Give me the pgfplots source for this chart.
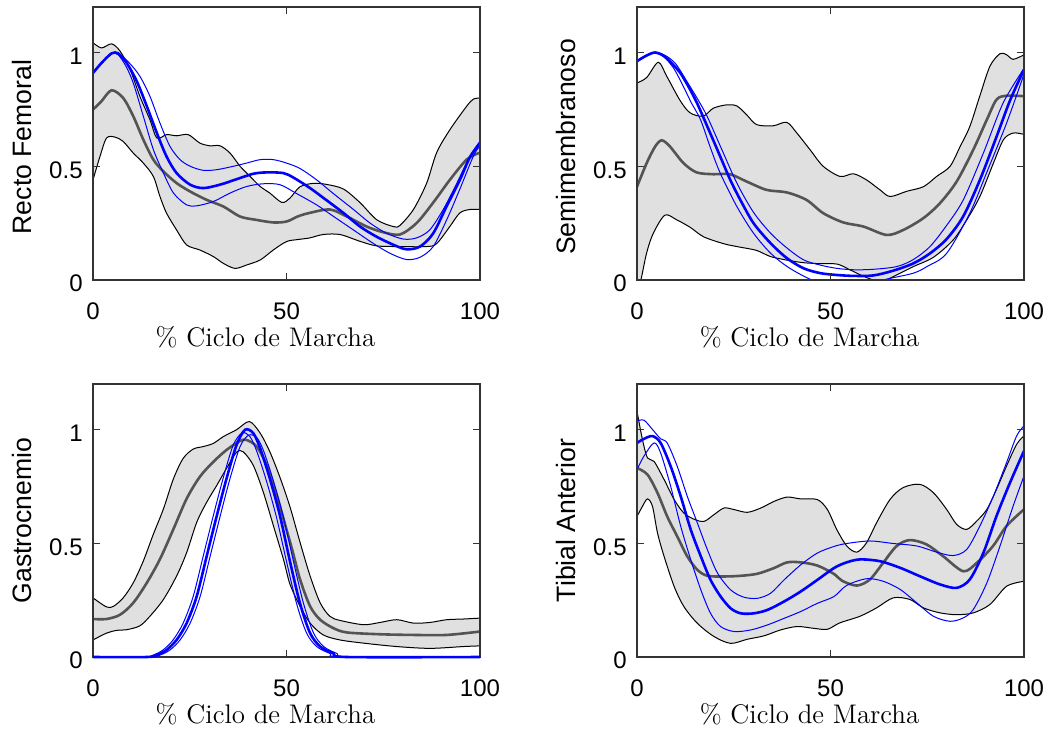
\documentclass[border=0pt]{standalone}
\usepackage{fontspec}
\setmainfont{Latin Modern Roman}
\setsansfont{Liberation Sans}
\usepackage{pgfplots}
\pgfplotsset{compat=1.18}
\usepgfplotslibrary{fillbetween}
\definecolor{bandfill}{gray}{0.88}
\definecolor{meangray}{gray}{0.33}
\definecolor{mblue}{rgb}{0,0,1}
\pgfplotsset{
  emg/.style={
    scale only axis, width=193.5pt, height=136.5pt,
    anchor=south west,
    xmin=0, xmax=100, ymin=0, ymax=1.2,
    xtick={0,50,100}, ytick={0,0.5,1},
    tick align=inside, xtick pos=both, ytick pos=both,
    major tick length=3.5pt,
    set layers, axis on top,
    axis line style={black!80, line width=0.6pt},
    every tick/.style={black!80, line width=0.5pt},
    /pgf/number format/assume math mode=true,
    tick label style={font=\sffamily\fontsize{12}{12}\selectfont},
    xticklabel style={anchor=north, inner sep=0pt, yshift=-11pt},
    yticklabel style={anchor=east, inner sep=0pt, xshift=-5pt, yshift=-1.75pt},
    xlabel={\% Ciclo de Marcha},
    xlabel style={at={(axis description cs:0.4457,-0.245)}, anchor=base, inner sep=0pt, font=\fontsize{13.45}{13.45}\selectfont},
    ylabel style={at={(axis description cs:-0.1835,0.5)}, anchor=center, inner sep=0pt, font=\sffamily\fontsize{13.3}{13.3}\selectfont},
  },
  bandline/.style={black, line width=0.5pt, smooth},
  meanline/.style={meangray, line width=1.3pt, smooth},
  thinblue/.style={mblue, line width=0.5pt, smooth},
  thickblue/.style={mblue, line width=1.3pt, smooth},
}
\begin{document}
\begin{tikzpicture}

% ---------------- Recto Femoral ----------------
\begin{axis}[emg, at={(46.5pt,225pt)}, ylabel={Recto Femoral}, ylabel style={at={(axis description cs:-0.1835,0.487)}}]
\addplot[bandline, name path=U] coordinates {(0,1.043)(2.2,1.02)(4.8,1.038)(7,1.006)(9.6,0.925)(12.1,0.808)(14.7,0.705)(16.5,0.624)(19,0.639)(21.6,0.634)(24.6,0.639)(27.6,0.602)(30.2,0.59)(32.8,0.59)(35.4,0.558)(38,0.5)(40.6,0.455)(43.2,0.411)(45.7,0.382)(48.8,0.341)(50.9,0.36)(53.5,0.41)(57,0.425)(60.4,0.42)(64.7,0.40)(69,0.34)(73.3,0.265)(77.6,0.235)(79.3,0.24)(82.8,0.31)(86.2,0.425)(88.8,0.56)(92.2,0.66)(96.6,0.765)(98.3,0.795)(100,0.80)};
\addplot[bandline, name path=L] coordinates {(0,0.44)(1.8,0.543)(3.5,0.624)(5.7,0.628)(7.8,0.609)(10.4,0.558)(13,0.514)(15.6,0.455)(17.3,0.367)(19,0.294)(21.6,0.22)(24.2,0.154)(27.6,0.132)(31.1,0.103)(33.7,0.073)(36.7,0.051)(39.7,0.066)(43.2,0.088)(46.6,0.132)(50,0.169)(53,0.178)(56,0.185)(59.5,0.20)(63.8,0.20)(69,0.17)(73.3,0.15)(79.3,0.147)(86.2,0.147)(88.8,0.16)(92.2,0.235)(94.8,0.295)(97.4,0.31)(100,0.31)};
\addplot[bandfill] fill between[of=U and L];
\addplot[meanline] coordinates {(0,0.749)(2.2,0.786)(4.8,0.834)(7.8,0.8)(10.4,0.72)(13,0.617)(15.6,0.529)(18.2,0.477)(21.6,0.426)(25.1,0.389)(29.4,0.352)(33.7,0.323)(38,0.279)(42.3,0.264)(46.6,0.253)(50,0.257)(53,0.28)(56,0.295)(61.2,0.31)(65.5,0.28)(70.7,0.235)(75,0.21)(79.3,0.20)(83.6,0.25)(87.9,0.34)(92.2,0.44)(96.6,0.53)(100,0.56)};
\addplot[thinblue] coordinates {(0,0.91)(2.2,0.954)(4.8,0.996)(7,0.99)(9.6,0.95)(12.1,0.896)(14.7,0.808)(17.3,0.69)(19.9,0.587)(22.5,0.529)(25.1,0.5)(28.5,0.482)(32,0.485)(36.3,0.5)(39.7,0.514)(43.2,0.529)(46.6,0.529)(50,0.514)(53.5,0.49)(57.8,0.44)(62.1,0.38)(67.3,0.31)(71.6,0.25)(75.9,0.205)(80.2,0.18)(83.6,0.185)(87,0.22)(90.5,0.31)(94,0.425)(97.4,0.545)(100,0.61)};
\addplot[thinblue] coordinates {(0,0.91)(2.2,0.954)(4.8,0.996)(6.5,0.99)(8.5,0.94)(10.4,0.866)(13,0.72)(15.6,0.573)(18.2,0.47)(20.8,0.382)(24.2,0.33)(26.8,0.326)(31.1,0.345)(35.4,0.382)(39.7,0.411)(44,0.423)(48.3,0.419)(52.6,0.38)(57.8,0.33)(62.1,0.28)(67.3,0.22)(72.5,0.16)(76.8,0.117)(81,0.09)(84.5,0.10)(87.9,0.147)(91.4,0.265)(94.8,0.40)(98.3,0.545)(100,0.59)};
\addplot[thickblue] coordinates {(0,0.91)(2.2,0.954)(4.8,0.996)(6.5,0.996)(8.7,0.954)(11.3,0.874)(13.9,0.764)(16.5,0.646)(19,0.543)(21.6,0.47)(25.1,0.419)(28.5,0.404)(32.8,0.419)(37.1,0.443)(41.4,0.467)(44.9,0.473)(49.2,0.47)(51.8,0.45)(56,0.405)(60.4,0.35)(64.7,0.295)(69,0.235)(73.3,0.19)(77.6,0.155)(81,0.135)(84.5,0.147)(87.9,0.205)(91.4,0.325)(94.8,0.44)(97.4,0.54)(100,0.60)};
\end{axis}

% ---------------- Semimembranoso ----------------
\begin{axis}[emg, at={(318.5pt,225pt)}, ylabel={Semimembranoso}, ylabel style={at={(axis description cs:-0.1835,0.487)}}]
\addplot[bandline, name path=U] coordinates {(0,0.866)(2.5,0.89)(5.5,0.957)(7.7,0.895)(11.1,0.79)(13.7,0.735)(17.1,0.72)(19.7,0.755)(23.2,0.77)(25.8,0.765)(28.3,0.727)(30.9,0.683)(35.2,0.678)(38.7,0.693)(41.3,0.646)(44.7,0.573)(48.1,0.50)(52.5,0.455)(55.9,0.467)(59.3,0.44)(62.8,0.396)(65.4,0.367)(69.7,0.39)(74,0.41)(77.4,0.455)(80.9,0.50)(83.5,0.587)(86,0.675)(88.6,0.81)(91.2,0.94)(93.8,0.995)(95.5,0.99)(97.2,0.97)(100,0.99)};
\addplot[bandline, name path=L] coordinates {(0,-0.05)(1,0.0)(2.5,0.12)(4.2,0.205)(7.2,0.285)(10.2,0.265)(13.7,0.232)(17.2,0.19)(22.3,0.16)(25.8,0.147)(30.9,0.13)(34.5,0.103)(39.5,0.085)(43.1,0.076)(47,0.072)(51.7,0.07)(55,0.045)(58,0.02)(61,0.0)(63,-0.01)(66.2,0.015)(71.4,0.059)(76.6,0.10)(81.7,0.176)(85.2,0.264)(88.6,0.367)(92.1,0.514)(94.7,0.617)(97.2,0.646)(100,0.64)};
\addplot[bandfill] fill between[of=U and L];
\addplot[meanline] coordinates {(0,0.41)(2.5,0.514)(4.7,0.587)(6.4,0.614)(8.5,0.587)(12,0.514)(15.4,0.473)(19.7,0.465)(24,0.465)(28.3,0.433)(33.5,0.396)(38.7,0.385)(43.8,0.352)(48.1,0.294)(53.3,0.253)(58.5,0.235)(64.5,0.198)(68.8,0.22)(74,0.272)(78.3,0.338)(82.6,0.433)(86.9,0.573)(90.4,0.705)(92.9,0.793)(95.5,0.81)(100,0.808)};
\addplot[thinblue] coordinates {(0,0.962)(2.5,0.987)(5,1.0)(7.5,0.985)(10,0.95)(13,0.87)(15.5,0.80)(18.1,0.72)(22,0.57)(25.8,0.426)(30,0.30)(34.5,0.206)(38.8,0.14)(43.1,0.088)(47.5,0.065)(51.7,0.051)(56,0.045)(61,0.047)(67.1,0.059)(71.4,0.09)(75.7,0.147)(80,0.24)(84.3,0.352)(89.5,0.558)(94.6,0.778)(100,0.93)};
\addplot[thinblue] coordinates {(0,0.962)(2.5,0.987)(4.5,1.0)(7,0.98)(9.5,0.93)(12,0.85)(14,0.78)(16.4,0.705)(19,0.58)(21.5,0.47)(25.8,0.323)(30.1,0.206)(34.5,0.118)(38.8,0.059)(43.9,0.01)(48,-0.015)(55,-0.02)(60,-0.015)(64.5,0.004)(71.4,0.03)(75,0.06)(80,0.117)(86,0.294)(90.3,0.47)(95.5,0.69)(100,0.905)};
\addplot[thickblue] coordinates {(0,0.962)(2.5,0.987)(4.7,1.0)(7,0.984)(9.4,0.945)(11.2,0.91)(13.3,0.85)(15.5,0.778)(18.9,0.646)(21.5,0.543)(24.1,0.44)(26.7,0.352)(30.1,0.25)(34.5,0.162)(38.8,0.095)(43.1,0.051)(47.4,0.03)(51.7,0.022)(56,0.018)(61,0.02)(66,0.04)(71.4,0.073)(75.7,0.117)(80,0.18)(84.3,0.28)(88.6,0.44)(92.9,0.63)(96.4,0.79)(100,0.925)};
\end{axis}

% ---------------- Gastrocnemio ----------------
\begin{axis}[emg, at={(46.5pt,36.5pt)}, ylabel={Gastrocnemio}]
\addplot[bandline, name path=U] coordinates {(0,0.26)(3.5,0.22)(5.3,0.223)(7.8,0.26)(10.4,0.326)(13,0.422)(15.6,0.54)(18.2,0.651)(20.8,0.784)(23.3,0.873)(25.9,0.914)(28.5,0.925)(31.1,0.939)(33.7,0.969)(37.1,0.999)(40.4,1.035)(43.2,0.984)(45.7,0.902)(48.3,0.79)(50.9,0.66)(53.5,0.504)(56.1,0.356)(58.7,0.238)(61.2,0.179)(63.8,0.161)(69.9,0.142)(74.2,0.152)(78.5,0.164)(82.8,0.149)(87.1,0.152)(91.4,0.164)(95.7,0.167)(100,0.171)};
\addplot[bandline, name path=L] coordinates {(0,0.075)(3.5,0.105)(6.1,0.117)(8.7,0.12)(12.1,0.137)(14.7,0.179)(18.2,0.253)(21.6,0.356)(24.2,0.459)(26.8,0.592)(29.4,0.681)(32,0.755)(34.5,0.829)(37.1,0.9)(38.8,0.902)(41.4,0.843)(44,0.725)(46.6,0.578)(49.2,0.43)(50.9,0.32)(53.5,0.223)(56.1,0.149)(59.5,0.097)(63.8,0.075)(69.9,0.061)(78.5,0.046)(87.1,0.038)(95.7,0.046)(100,0.049)};
\addplot[bandfill] fill between[of=U and L];
\addplot[meanline] coordinates {(0,0.167)(3.5,0.167)(7,0.186)(10.4,0.238)(13.9,0.326)(17.3,0.43)(20.8,0.563)(24.2,0.696)(27.6,0.792)(31.1,0.858)(34.5,0.91)(38,0.95)(39.7,0.954)(42.3,0.925)(44.9,0.843)(47.5,0.71)(50,0.56)(51.5,0.47)(53.5,0.341)(56.1,0.223)(58.7,0.164)(62.1,0.127)(65.6,0.108)(74.2,0.1)(82.8,0.097)(91.4,0.097)(100,0.112)};
\addplot[thinblue, on layer=axis foreground] coordinates {(0,0)(13,0)(15.6,0.009)(18.1,0.031)(20.7,0.075)(23.3,0.149)(25.9,0.267)(28.5,0.445)(31.1,0.622)(33.6,0.784)(36.2,0.93)(38.5,0.985)(40.5,0.97)(42.3,0.905)(44.8,0.775)(47.4,0.615)(50,0.42)(52.6,0.235)(55.2,0.105)(57.8,0.046)(61.2,0.016)(64.7,0)(100,0)};
\addplot[thinblue, on layer=axis foreground] coordinates {(0,0)(14.8,0)(17.4,0.009)(19.9,0.031)(22.5,0.075)(25.1,0.149)(27.7,0.267)(30.3,0.445)(32.9,0.622)(35.4,0.784)(38,0.925)(40.2,0.975)(42.3,0.965)(44.1,0.905)(46.6,0.775)(49.2,0.615)(51.8,0.42)(54.4,0.235)(57,0.105)(59.6,0.046)(63,0.016)(66.5,0)(100,0)};
\addplot[thickblue, on layer=axis foreground] coordinates {(0,0)(13.9,0)(16.5,0.009)(19,0.031)(21.6,0.075)(24.2,0.149)(26.8,0.267)(29.4,0.445)(32,0.622)(34.5,0.784)(37.1,0.932)(39.3,0.999)(41.4,0.984)(43.2,0.917)(45.7,0.784)(48.3,0.622)(50.9,0.42)(53.5,0.235)(56.1,0.105)(58.7,0.046)(62.1,0.016)(65.6,0)(100,0)};
\end{axis}

% ---------------- Tibial Anterior ----------------
\begin{axis}[emg, at={(318.5pt,36.5pt)}, ylabel={Tibial Anterior}]
\addplot[bandline, name path=U] coordinates {(0,1.08)(1.4,0.956)(2.7,0.875)(4.4,0.86)(7,0.78)(9.6,0.692)(12.1,0.633)(14.7,0.606)(17.3,0.596)(19.9,0.626)(22.5,0.655)(25.1,0.648)(28.5,0.636)(32,0.655)(35.4,0.684)(38.8,0.703)(42.3,0.695)(46.6,0.692)(49.2,0.648)(51.6,0.561)(54.2,0.488)(56.8,0.461)(59.3,0.502)(61.9,0.59)(65.4,0.693)(68.8,0.745)(73.1,0.759)(76.6,0.722)(80,0.649)(82.6,0.583)(85.2,0.561)(87.8,0.598)(90.4,0.649)(92.9,0.737)(95.5,0.84)(98.1,0.935)(100,0.972)};
\addplot[bandline, name path=L] coordinates {(0,0.618)(1.4,0.662)(2.7,0.695)(4,0.662)(5.3,0.545)(7,0.442)(9.6,0.31)(12.1,0.222)(15.6,0.148)(19.9,0.09)(24.2,0.06)(28.5,0.078)(32.8,0.093)(37.1,0.119)(41.4,0.134)(45.7,0.126)(49.2,0.122)(52.4,0.15)(57.6,0.179)(61.9,0.216)(66.2,0.26)(70.5,0.253)(74,0.216)(78.3,0.194)(82.6,0.186)(86.9,0.194)(91.2,0.231)(95.5,0.311)(100,0.333)};
\addplot[bandfill] fill between[of=U and L];
\addplot[meanline] coordinates {(0,0.831)(2.7,0.802)(5.3,0.721)(7.8,0.618)(10.4,0.53)(13,0.442)(15.6,0.383)(18.2,0.357)(22.5,0.354)(26.8,0.357)(31.1,0.366)(35.4,0.391)(38.8,0.416)(42.3,0.416)(46.6,0.402)(50.9,0.365)(53,0.335)(56.8,0.314)(60.2,0.341)(63.6,0.414)(67.1,0.488)(70.5,0.514)(74.8,0.495)(79.1,0.443)(84.3,0.377)(87.8,0.414)(92,0.488)(95.5,0.576)(100,0.649)};
\addplot[thinblue] coordinates {(0,1.037)(1.8,1.041)(4,1.0)(6.1,0.959)(7.8,0.941)(10.4,0.838)(13,0.706)(15.6,0.589)(18.2,0.471)(20.8,0.369)(24.2,0.295)(27.6,0.263)(31.1,0.258)(34.5,0.28)(38,0.339)(42.3,0.405)(46.6,0.457)(50.9,0.486)(54.2,0.499)(60.2,0.51)(66.2,0.499)(72.3,0.488)(77.4,0.461)(81.7,0.446)(85.2,0.473)(88.6,0.576)(92.1,0.708)(95.5,0.855)(98.1,0.972)(100,1.016)};
\addplot[thinblue] coordinates {(0,0.824)(1.8,0.883)(4.4,0.941)(6.1,0.897)(8.7,0.75)(11.3,0.574)(13.9,0.427)(16.5,0.295)(19,0.192)(21.6,0.134)(25.1,0.112)(29.4,0.119)(33.7,0.141)(38,0.17)(42.3,0.2)(46.6,0.236)(50.9,0.266)(54.2,0.315)(59.3,0.344)(63.6,0.333)(68,0.297)(72.3,0.238)(76.6,0.179)(80.9,0.157)(84.3,0.172)(86.9,0.209)(90.4,0.326)(93.8,0.488)(97.2,0.664)(100,0.796)};
\addplot[thickblue] coordinates {(0,0.941)(1.8,0.959)(4,0.971)(6.1,0.941)(8.7,0.838)(11.3,0.706)(13.9,0.559)(16.5,0.442)(19,0.339)(21.6,0.266)(24.2,0.214)(26.8,0.192)(30.2,0.192)(33.7,0.207)(38,0.244)(42.3,0.288)(46.6,0.339)(50.9,0.391)(54,0.415)(57.6,0.429)(62.8,0.421)(68,0.392)(73.1,0.355)(78.3,0.319)(82.6,0.304)(86,0.341)(89.5,0.458)(92.9,0.62)(96.4,0.767)(100,0.906)};
\end{axis}
\path (0,0) rectangle (526pt,365pt);
\end{tikzpicture}
\end{document}
